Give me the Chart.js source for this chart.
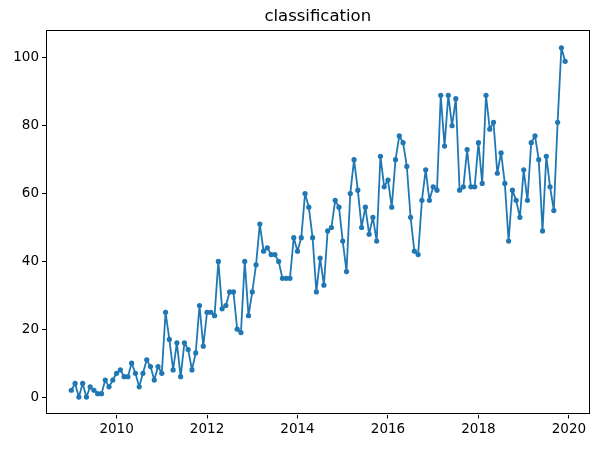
<!DOCTYPE html>
<html>
<head>
<meta charset="utf-8">
<script src="https://cdn.jsdelivr.net/npm/chart.js@4"></script>
<style>
    body { margin: 0; background: #fff; }
    canvas { display: block; }
</style>
</head>
<body>
<canvas id="chart" width="598" height="449"></canvas>
<script>
// Data: monthly counts, Jan 2009 - Dec 2019
const startYear = 2009;
const counts = [
    2, 4, 0, 4, 0, 3, 2, 1, 1, 5, 3, 5,           // 2009
    7, 8, 6, 6, 10, 7, 3, 7, 11, 9, 5, 9,         // 2010
    7, 25, 17, 8, 16, 6, 16, 14, 8, 13, 27, 15,   // 2011
    25, 25, 24, 40, 26, 27, 31, 31, 20, 19, 40, 24, // 2012
    31, 39, 51, 43, 44, 42, 42, 40, 35, 35, 35, 47, // 2013
    43, 47, 60, 56, 47, 31, 41, 33, 49, 50, 58, 56, // 2014
    46, 37, 60, 70, 61, 50, 56, 48, 53, 46, 71, 62, // 2015
    64, 56, 70, 77, 75, 68, 53, 43, 42, 58, 67, 58, // 2016
    62, 61, 89, 74, 89, 80, 88, 61, 62, 73, 62, 62, // 2017
    75, 63, 89, 79, 81, 66, 72, 63, 46, 61, 58, 53, // 2018
    67, 58, 75, 77, 70, 49, 71, 62, 55, 81, 103, 99 // 2019
];
const xTicks = [2010, 2012, 2014, 2016, 2018, 2020];
const yTicks = [0, 20, 40, 60, 80, 100];
const title = 'classification';

// month index -> decimal year
const points = counts.map((v, i) => ({ x: startYear + i / 12, y: v }));

// Axes frame like matplotlib (all four sides)
const framePlugin = {
    id: 'frame',
    afterDraw(chart) {
        const { ctx, chartArea: a } = chart;
        ctx.save();
        ctx.strokeStyle = '#000';
        ctx.lineWidth = 1;
        ctx.strokeRect(Math.round(a.left) + 0.5, Math.round(a.top) + 0.5,
            Math.round(a.right - a.left) - 1, Math.round(a.bottom - a.top) - 1);
        ctx.restore();
    }
};

const font = { family: "'DejaVu Sans', sans-serif", size: 13.5 };

new Chart(document.getElementById('chart').getContext('2d'), {
    type: 'line',
    data: {
        datasets: [{
            data: points,
            borderColor: '#1f77b4',
            backgroundColor: '#1f77b4',
            borderWidth: 1.8,
            borderJoinStyle: 'round',
            borderCapStyle: 'round',
            pointRadius: 2.6,
            pointBorderWidth: 0,
            pointHoverRadius: 2.6,
            tension: 0
        }]
    },
    plugins: [framePlugin],
    options: {
        responsive: false,
        animation: false,
        layout: { padding: { left: 0, right: 8.5, top: 0, bottom: 0 } },
        plugins: {
            legend: { display: false },
            tooltip: { enabled: false },
            title: {
                display: true,
                text: title,
                color: '#000',
                fullSize: false,
                font: { family: "'DejaVu Sans', sans-serif", size: 16.5, weight: 'normal', lineHeight: 1.2 },
                padding: { top: 6.5, bottom: 4 }
            }
        },
        scales: {
            x: {
                type: 'linear',
                min: 2008.44,
                max: 2020.455,
                afterBuildTicks: axis => { axis.ticks = xTicks.map(v => ({ value: v })); },
                afterFit: axis => { axis.height = 34.5; },
                ticks: {
                    color: '#000',
                    font: font,
                    padding: 3,
                    maxRotation: 0,
                    callback: v => String(v)
                },
                grid: { drawOnChartArea: false, drawTicks: true, tickLength: 4, color: '#000' },
                border: { display: false }
            },
            y: {
                min: -5.15,
                max: 108.15,
                afterBuildTicks: axis => { axis.ticks = yTicks.map(v => ({ value: v })); },
                afterFit: axis => { axis.width = 46; },
                ticks: {
                    color: '#000',
                    font: font,
                    padding: 3,
                    callback: v => String(v)
                },
                grid: { drawOnChartArea: false, drawTicks: true, tickLength: 4, color: '#000' },
                border: { display: false }
            }
        }
    }
});
</script>
</body>
</html>
